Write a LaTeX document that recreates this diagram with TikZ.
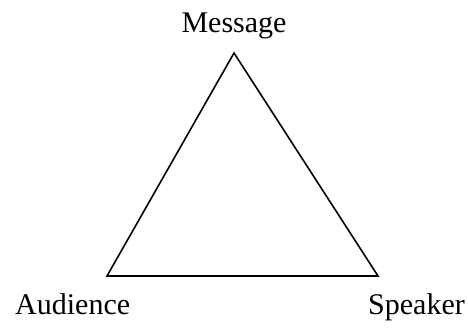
\documentclass[tikz,border=0pt]{standalone}
\usepackage{fontspec}
\setmainfont{Liberation Serif}
\begin{document}
\begin{tikzpicture}[x=1pt,y=-1pt,
  lbl/.style={font=\fontsize{30}{34}\selectfont, inner sep=0pt},
  edge/.style={line width=1.6pt, line join=miter}]
\useasboundingbox (0,0) rectangle (468,328);
\coordinate (m) at (234,53);
\coordinate (a) at (107,276);
\coordinate (s) at (378,276);
\draw[edge] (m) -- (a) -- (s) -- cycle;
\node[lbl, anchor=base] (tm) at (234,33) {Message};
\node[lbl, anchor=base west] (ta) at (15,315) {Audience};
\node[lbl, anchor=base east] (ts) at (465,315) {Speaker};
\end{tikzpicture}
\end{document}
